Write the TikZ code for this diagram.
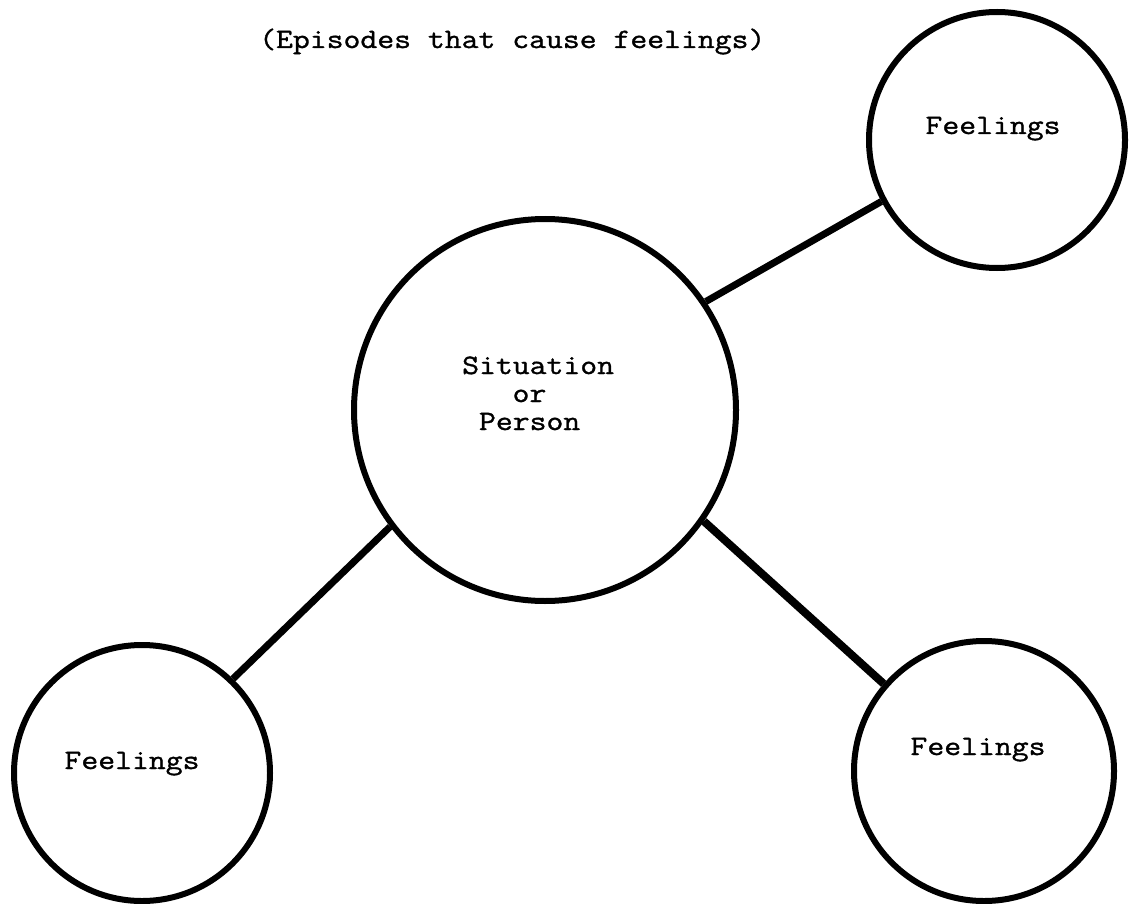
\documentclass[tikz,border=0pt]{standalone}
\usepackage{fontspec}
\setmonofont{Latin Modern Mono}[FakeStretch=1.17,FakeBold=1.2]
\begin{document}
\begin{tikzpicture}[x=1pt,y=-1pt,
  bubble/.style={circle,draw=black,line width=6pt,inner sep=0pt,fill=none},
  link/.style={draw=black,line width=7pt},
  typed/.style={font=\ttfamily\fontsize{28}{28}\selectfont,inner sep=0pt,anchor=base west}]
  \fill[white] (0,0) rectangle (1129,904);
  \useasboundingbox (0,0) rectangle (1129,904);

  % heading
  \node[typed] (title) at (259,48) {(Episodes that cause feelings)};

  % circles
  \node[bubble,minimum size=382pt] (hub) at (545,410) {};
  \node[bubble,minimum size=256pt] (tr) at (997,140) {};
  \node[bubble,minimum size=256pt] (bl) at (142,773) {};
  \node[bubble,minimum size=260pt] (br) at (984,771) {};

  % labels
  \node[typed] (sit) at (462,374) {Situation};
  \node[typed] (or) at (512.4,402) {or};
  \node[typed] (per) at (478.8,430) {Person};
  \node[typed,anchor=base] (ftr) at (993,134) {Feelings};
  \node[typed,anchor=base] (fbl) at (132,769) {Feelings};
  \node[typed,anchor=base] (fbr) at (978,755) {Feelings};

  % connectors
  \draw[link] (hub.34.7) -- (tr.208.7);
  \draw[link] (hub.217.4) -- (bl.46.2);
  \draw[link,line width=8pt] (hub.-35.6) -- (br.139);
\end{tikzpicture}
\end{document}
